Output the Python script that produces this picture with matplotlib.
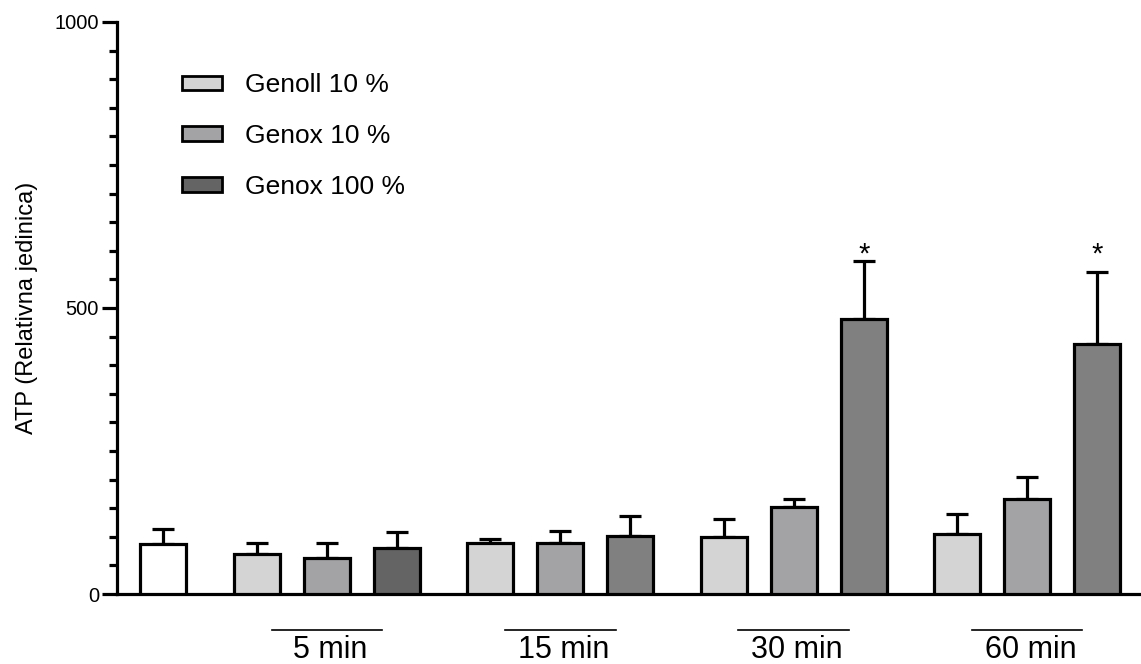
import matplotlib
matplotlib.use('Agg')
import matplotlib.pyplot as plt
import numpy as np
from matplotlib.patches import Patch
from matplotlib.ticker import MultipleLocator

plt.rcParams['font.family'] = ['Liberation Sans', 'DejaVu Sans']

# podaci (očitano s grafa)
groups = ['5 min', '15 min', '30 min', '60 min']
series = ['Genoll 10 %', 'Genox 10 %', 'Genox 100 %']
control = 87
control_err = 27
genoll = [70, 89, 100, 105]
genoll_err = [19, 7, 31, 35]
genox10 = [63, 89, 152, 166]
genox10_err = [26, 21, 14, 39]
genox100 = [80, 101, 481, 437]
genox100_err = [28, 35, 101, 126]
stars = ['', '', '*', '*']
star_y = 579

c_genoll = '#d4d4d4'
c_genox10 = '#a3a3a6'
c_genox100 = '#808080'
c_genox100_5 = '#646464'

fig = plt.figure(figsize=(11.41, 6.64), dpi=100)
ax = fig.add_axes([117 / 1141, 70 / 664, 1 - 117 / 1141, 572 / 664])

width = 0.657
period = 10 / 3
start = 1.343
lw = 2.3

# kontrola
ax.bar(0, control, width, color='white', edgecolor='black', linewidth=lw, zorder=3)
ax.errorbar(0, control, yerr=[[0], [control_err]], fmt='none', ecolor='black',
            elinewidth=lw, capsize=8, capthick=lw, zorder=2)

data = [(genoll, genoll_err), (genox10, genox10_err), (genox100, genox100_err)]
colors = [c_genoll, c_genox10, c_genox100]
for gi, g in enumerate(groups):
    base = start + gi * period
    for si in range(3):
        vals, errs = data[si]
        x = base + si
        col = colors[si]
        if si == 2 and gi == 0:
            col = c_genox100_5
        ax.bar(x, vals[gi], width, color=col, edgecolor='black', linewidth=lw, zorder=3)
        ax.errorbar(x, vals[gi], yerr=[[0], [errs[gi]]], fmt='none', ecolor='black',
                    elinewidth=lw, capsize=8, capthick=lw, zorder=2)
        if si == 2 and stars[gi]:
            ax.text(x, star_y, stars[gi], ha='center', va='baseline', fontsize=21)
    # linija i natpis grupe
    mid = base + 1
    ax.plot([mid - 0.79, mid + 0.79], [-0.063, -0.063], color='black', lw=1.2,
            transform=ax.get_xaxis_transform(), clip_on=False)
    ax.text(mid + 0.05, -0.098, g, ha='center', va='center', fontsize=22,
            transform=ax.get_xaxis_transform())

ax.set_xlim(-0.657, 13.97)
ax.set_ylim(0, 1000)
ax.set_xticks([])
ax.yaxis.set_major_locator(MultipleLocator(500))
ax.yaxis.set_minor_locator(MultipleLocator(50))
ax.tick_params(axis='y', which='major', length=11, width=lw, labelsize=14.5, pad=2)
ax.tick_params(axis='y', which='minor', length=6, width=lw)
for s in ['top', 'right']:
    ax.spines[s].set_visible(False)
for s in ['left', 'bottom']:
    ax.spines[s].set_linewidth(lw)
ax.set_ylabel('ATP (Relativna jedinica)', fontsize=17, labelpad=12)

handles = [Patch(facecolor=c_genoll, edgecolor='black', linewidth=2),
           Patch(facecolor=c_genox10, edgecolor='black', linewidth=2),
           Patch(facecolor=c_genox100_5, edgecolor='black', linewidth=2)]
ax.legend(handles, series, loc='upper left', bbox_to_anchor=(182 / 1141, 1 - 73 / 664),
          bbox_transform=fig.transFigure, frameon=False, fontsize=19, borderpad=0,
          borderaxespad=0, handlelength=1.5, handleheight=0.45, handletextpad=0.9,
          labelspacing=1.02)

fig.savefig('out.png', dpi=100)
